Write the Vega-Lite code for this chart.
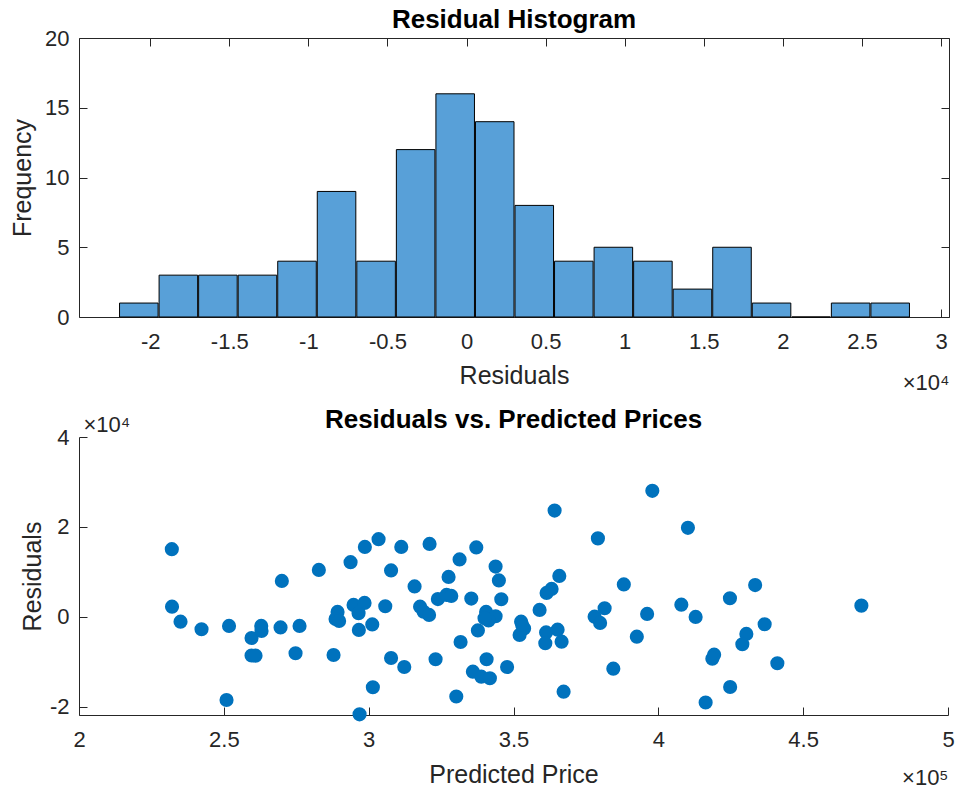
{
  "$schema": "https://vega.github.io/schema/vega-lite/v6.json",
  "background": "white",
  "padding": {"left": 10, "top": 7, "right": 5, "bottom": 5},
  "bounds": "flush",
  "spacing": 120,
  "config": {
    "view": {"stroke": null},
    "font": "Liberation Sans",
    "axis": {
      "domainColor": "#262626", "tickColor": "#262626", "labelColor": "#262626", "titleColor": "#262626",
      "labelFont": "Liberation Sans", "titleFont": "Liberation Sans",
      "labelFontSize": 22, "titleFontSize": 25, "titleFontWeight": "normal",
      "grid": false, "tickSize": -8, "domainWidth": 1, "tickWidth": 1,
      "labelFlush": false, "labelOverlap": false
    },
    "title": {"fontSize": 26, "fontWeight": "bold", "color": "#000000", "font": "Liberation Sans", "frame": "group", "baseline": "alphabetic", "offset": 10, "anchor": "middle"}
  },
  "vconcat": [
    {
      "width": 870,
      "height": 279,
      "title": {"text": "Residual Histogram", "dy": 16},
      "data": {"values": [
        {"bin_start": -22000, "bin_end": -19500, "count": 1},
        {"bin_start": -19500, "bin_end": -17000, "count": 3},
        {"bin_start": -17000, "bin_end": -14500, "count": 3},
        {"bin_start": -14500, "bin_end": -12000, "count": 3},
        {"bin_start": -12000, "bin_end": -9500, "count": 4},
        {"bin_start": -9500, "bin_end": -7000, "count": 9},
        {"bin_start": -7000, "bin_end": -4500, "count": 4},
        {"bin_start": -4500, "bin_end": -2000, "count": 12},
        {"bin_start": -2000, "bin_end": 500, "count": 16},
        {"bin_start": 500, "bin_end": 3000, "count": 14},
        {"bin_start": 3000, "bin_end": 5500, "count": 8},
        {"bin_start": 5500, "bin_end": 8000, "count": 4},
        {"bin_start": 8000, "bin_end": 10500, "count": 5},
        {"bin_start": 10500, "bin_end": 13000, "count": 4},
        {"bin_start": 13000, "bin_end": 15500, "count": 2},
        {"bin_start": 15500, "bin_end": 18000, "count": 5},
        {"bin_start": 18000, "bin_end": 20500, "count": 1},
        {"bin_start": 20500, "bin_end": 23000, "count": 0},
        {"bin_start": 23000, "bin_end": 25500, "count": 1},
        {"bin_start": 25500, "bin_end": 28000, "count": 1}
      ]},
      "resolve": {"axis": {"x": "independent", "y": "independent"}},
      "layer": [
        {
          "mark": {"type": "bar", "fill": "#58A0D8", "stroke": "#000000", "strokeWidth": 1, "orient": "vertical"},
          "encoding": {
            "x": {"field": "bin_start", "type": "quantitative", "bin": {"binned": true, "step": 2500},
                  "scale": {"domain": [-24500, 30500], "nice": false, "zero": false},
                  "axis": {"values": [-20000, -15000, -10000, -5000, 0, 5000, 10000, 15000, 20000, 25000, 30000],
                           "labelExpr": "datum.value / 10000 + ''", "labelPadding": 22,
                           "title": "Residuals", "titleX": 435, "titleY": 66, "titleAlign": "center", "titleBaseline": "alphabetic"}},
            "x2": {"field": "bin_end"},
            "y": {"field": "count", "type": "quantitative",
                  "scale": {"domain": [0, 20], "nice": false, "zero": false},
                  "axis": {"values": [0, 5, 10, 15, 20], "labelPadding": 18,
                           "title": "Frequency", "titleX": -49, "titleY": 139.5, "titleAngle": 270, "titleAlign": "center", "titleBaseline": "alphabetic"}}
          }
        },
        {
          "mark": {"type": "point", "opacity": 0},
          "encoding": {
            "x": {"field": "bin_start", "type": "quantitative",
                  "scale": {"domain": [-24500, 30500], "nice": false, "zero": false},
                  "axis": {"orient": "top", "labels": false, "title": null,
                           "values": [-20000, -15000, -10000, -5000, 0, 5000, 10000, 15000, 20000, 25000, 30000]}},
            "y": {"field": "count", "type": "quantitative",
                  "scale": {"domain": [0, 20], "nice": false, "zero": false},
                  "axis": {"orient": "right", "labels": false, "title": null, "values": [0, 5, 10, 15, 20]}}
          }
        },
        {
          "mark": {"type": "point", "opacity": 0},
          "encoding": {
            "x": {"field": "bin_start", "type": "quantitative",
                  "scale": {"domain": [-24500, 30500], "nice": false, "zero": false},
                  "axis": {"orient": "bottom", "labels": false, "ticks": false, "domain": false,
                           "title": "×10⁴", "titleX": 870, "titleY": 72, "titleAlign": "right", "titleBaseline": "alphabetic", "titleFontSize": 22}}
          }
        }
      ]
    },
    {
      "width": 869,
      "height": 278,
      "title": {"text": "Residuals vs. Predicted Prices", "dy": 30},
      "data": {"values": [
        {"predicted": 232044, "residual": 15061},
        {"predicted": 232113, "residual": 2291},
        {"predicted": 235048, "residual": -1046},
        {"predicted": 242299, "residual": -2736},
        {"predicted": 251795, "residual": -2002},
        {"predicted": 250932, "residual": -18465},
        {"predicted": 259564, "residual": -4672},
        {"predicted": 259564, "residual": -8565},
        {"predicted": 260945, "residual": -8610},
        {"predicted": 262914, "residual": -2002},
        {"predicted": 263017, "residual": -3115},
        {"predicted": 269578, "residual": -2336},
        {"predicted": 270027, "residual": 8009},
        {"predicted": 274757, "residual": -8076},
        {"predicted": 276139, "residual": -2002},
        {"predicted": 282803, "residual": 10456},
        {"predicted": 287879, "residual": -8454},
        {"predicted": 289260, "residual": 1112},
        {"predicted": 288569, "residual": -445},
        {"predicted": 293749, "residual": 12169},
        {"predicted": 298687, "residual": 15573},
        {"predicted": 303417, "residual": 17286},
        {"predicted": 311256, "residual": 15573},
        {"predicted": 321028, "residual": 16240},
        {"predicted": 307734, "residual": 10345},
        {"predicted": 315848, "residual": 6785},
        {"predicted": 327588, "residual": 8899},
        {"predicted": 331387, "residual": 12792},
        {"predicted": 294785, "residual": 2670},
        {"predicted": 298583, "residual": 3115},
        {"predicted": 296511, "residual": 823},
        {"predicted": 296615, "residual": -2892},
        {"predicted": 301242, "residual": -1669},
        {"predicted": 305731, "residual": 2380},
        {"predicted": 317747, "residual": 2291},
        {"predicted": 318956, "residual": 1179},
        {"predicted": 320855, "residual": 445},
        {"predicted": 323894, "residual": 3960},
        {"predicted": 326898, "residual": 4894},
        {"predicted": 328521, "residual": 4672},
        {"predicted": 307734, "residual": -9121},
        {"predicted": 312292, "residual": -11124},
        {"predicted": 301449, "residual": -15640},
        {"predicted": 323099, "residual": -9411},
        {"predicted": 331732, "residual": -5562},
        {"predicted": 330247, "residual": -17686},
        {"predicted": 296857, "residual": -21646},
        {"predicted": 337153, "residual": 15462},
        {"predicted": 343817, "residual": 11190},
        {"predicted": 344957, "residual": 8120},
        {"predicted": 335427, "residual": 4071},
        {"predicted": 345786, "residual": 3938},
        {"predicted": 340537, "residual": 1112},
        {"predicted": 343817, "residual": 156},
        {"predicted": 341400, "residual": -779},
        {"predicted": 337706, "residual": -3003},
        {"predicted": 340710, "residual": -9411},
        {"predicted": 347788, "residual": -11124},
        {"predicted": 335979, "residual": -12169},
        {"predicted": 338877, "residual": -13281},
        {"predicted": 341849, "residual": -13637},
        {"predicted": 352623, "residual": -1046},
        {"predicted": 353659, "residual": -2558},
        {"predicted": 352105, "residual": -4004},
        {"predicted": 359011, "residual": 1557},
        {"predicted": 361428, "residual": 5339},
        {"predicted": 363154, "residual": 6229},
        {"predicted": 365813, "residual": 9121},
        {"predicted": 364190, "residual": 23649},
        {"predicted": 361255, "residual": -3448},
        {"predicted": 365226, "residual": -2825},
        {"predicted": 360979, "residual": -5851},
        {"predicted": 366607, "residual": -5495},
        {"predicted": 367298, "residual": -16619},
        {"predicted": 379142, "residual": 17464},
        {"predicted": 388085, "residual": 7230},
        {"predicted": 378002, "residual": 67},
        {"predicted": 381455, "residual": 1935},
        {"predicted": 379901, "residual": -1335},
        {"predicted": 384459, "residual": -11502},
        {"predicted": 392574, "residual": -4383},
        {"predicted": 396130, "residual": 667},
        {"predicted": 397926, "residual": 28031},
        {"predicted": 410219, "residual": 19800},
        {"predicted": 407940, "residual": 2736},
        {"predicted": 412877, "residual": 0},
        {"predicted": 419266, "residual": -8387},
        {"predicted": 418644, "residual": -9277},
        {"predicted": 416330, "residual": -19021},
        {"predicted": 424721, "residual": 4160},
        {"predicted": 433423, "residual": 7075},
        {"predicted": 436705, "residual": -1624},
        {"predicted": 430384, "residual": -3782},
        {"predicted": 429003, "residual": -6073},
        {"predicted": 441088, "residual": -10301},
        {"predicted": 424790, "residual": -15573},
        {"predicted": 470094, "residual": 2514},
        {"predicted": 340000, "residual": -300},
        {"predicted": 289800, "residual": -900},
        {"predicted": 353000, "residual": -1800}
      ]},
      "resolve": {"axis": {"x": "independent", "y": "independent"}},
      "layer": [
        {
          "mark": {"type": "point", "filled": true, "size": 200, "color": "#0072BD", "opacity": 1},
          "encoding": {
            "x": {"field": "predicted", "type": "quantitative",
                  "scale": {"domain": [200000, 500000], "nice": false, "zero": false},
                  "axis": {"values": [200000, 250000, 300000, 350000, 400000, 450000, 500000],
                           "labelExpr": "datum.value / 100000 + ''", "labelPadding": 22,
                           "title": "Predicted Price", "titleX": 434.5, "titleY": 67, "titleAlign": "center", "titleBaseline": "alphabetic"}},
            "y": {"field": "residual", "type": "quantitative",
                  "scale": {"domain": [-21800, 40000], "nice": false, "zero": false},
                  "axis": {"values": [-20000, 0, 20000, 40000],
                           "labelExpr": "datum.value / 10000 + ''", "labelPadding": 18,
                           "title": "Residuals", "titleX": -39, "titleY": 139, "titleAngle": 270, "titleAlign": "center", "titleBaseline": "alphabetic"}}
          }
        },
        {
          "mark": {"type": "point", "opacity": 0},
          "encoding": {
            "x": {"field": "predicted", "type": "quantitative",
                  "scale": {"domain": [200000, 500000], "nice": false, "zero": false},
                  "axis": {"orient": "bottom", "labels": false, "ticks": false, "domain": false,
                           "title": "×10⁵", "titleX": 869, "titleY": 69, "titleAlign": "right", "titleBaseline": "alphabetic", "titleFontSize": 22}},
            "y": {"field": "residual", "type": "quantitative",
                  "scale": {"domain": [-21800, 40000], "nice": false, "zero": false},
                  "axis": {"orient": "left", "labels": false, "ticks": false, "domain": false,
                           "title": "×10⁴", "titleX": 4, "titleY": -6, "titleAngle": 0, "titleAlign": "left", "titleBaseline": "alphabetic", "titleFontSize": 22}}
          }
        }
      ]
    }
  ]
}
